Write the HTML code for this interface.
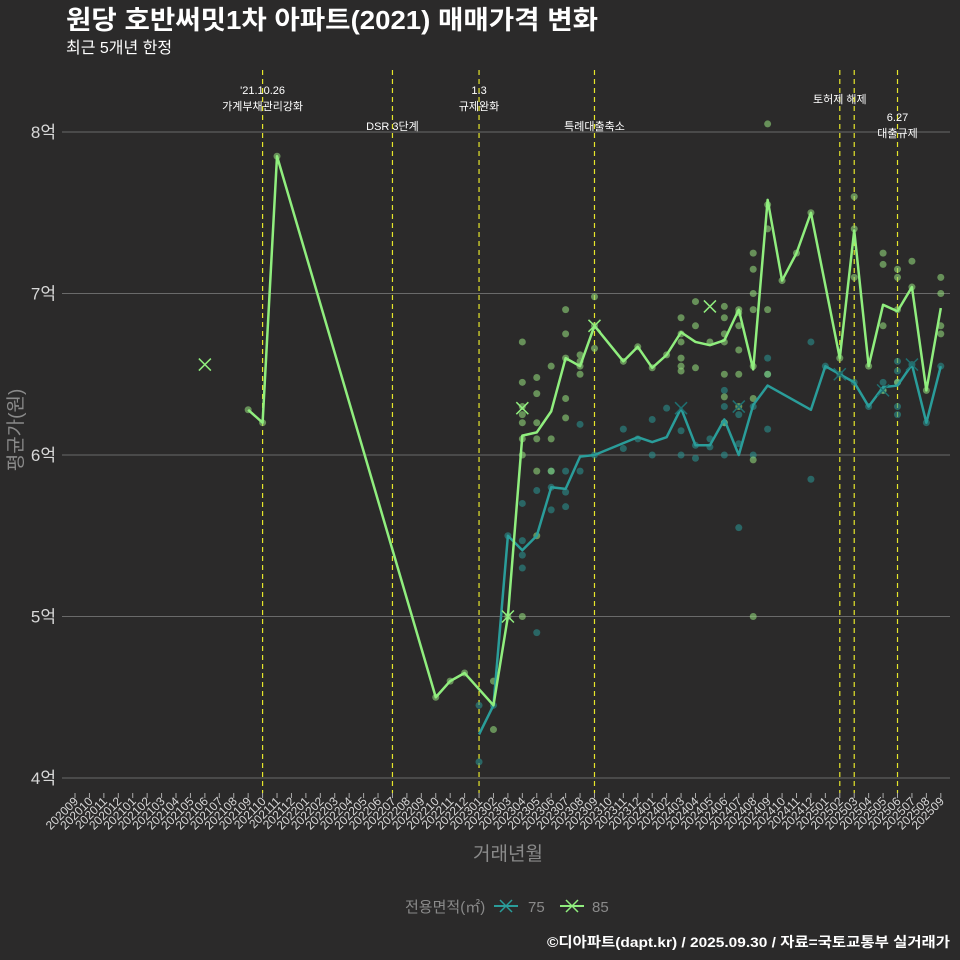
<!DOCTYPE html>
<html><head><meta charset="utf-8">
<style>
html,body{margin:0;padding:0;background:#2b2a2a;}
svg{display:block;font-family:"Liberation Sans","Noto Sans CJK KR",sans-serif;}
</style></head>
<body>
<svg id="chart" width="960" height="960" viewBox="0 0 960 960">
<rect x="0" y="0" width="960" height="960" fill="#2b2a2a"/>
<text x="66" y="29" fill="#ffffff" font-size="26" font-weight="bold" textLength="532" lengthAdjust="spacingAndGlyphs">원당 호반써밋1차 아파트(2021) 매매가격 변화</text>
<text x="66" y="53" fill="#ffffff" font-size="16">최근 5개년 한정</text>
<g id="grid"></g><g id="vlines"></g><g id="dots"></g><g id="lines"></g><g id="marks"></g><g id="axes"></g>
<text transform="translate(22,430) rotate(-90)" text-anchor="middle" fill="#8a8a8a" font-size="19">평균가(원)</text>
<text x="508" y="860" text-anchor="middle" fill="#8a8a8a" font-size="19">거래년월</text>
<g>
<text x="405" y="912" fill="#8a8a8a" font-size="15">전용면적(㎡)</text>
<g><line x1="494" y1="906" x2="518" y2="906" stroke="#2a9d9a" stroke-width="2"/><path d="M500 900 L512 912 M512 900 L500 912" stroke="#2a9d9a" stroke-width="1.5"/><text x="528" y="912" fill="#8a8a8a" font-size="15">75</text></g>
<g><line x1="560" y1="906" x2="584" y2="906" stroke="#90ee7e" stroke-width="2"/><path d="M566 900 L578 912 M578 900 L566 912" stroke="#90ee7e" stroke-width="1.5"/><text x="592" y="912" fill="#8a8a8a" font-size="15">85</text></g>
</g>
<text x="950" y="947" text-anchor="end" fill="#ffffff" font-size="14" font-weight="bold" textLength="403" lengthAdjust="spacingAndGlyphs">©디아파트(dapt.kr) / 2025.09.30 / 자료=국토교통부 실거래가</text>
</svg>
<script>
const months = [];
for (let y = 2020, m = 9; months.length < 61; ) { months.push(y + String(m).padStart(2,'0')); m++; if (m > 12) { m = 1; y++; } }
const yTicks = [4,5,6,7,8];
const yTickLabels = ['4억','5억','6억','7억','8억'];
const line85Idx = [12,13,14,25,26,27,29,30,31,32,33,34,35,36,38,39,40,41,42,43,44,45,46,47,48,49,50,51,53,54,55,56,57,58,59,60];
const line85Val = [6.28,6.2,7.85,4.5,4.6,4.65,4.45,5.0,6.12,6.14,6.27,6.6,6.55,6.8,6.58,6.67,6.54,6.62,6.76,6.7,6.68,6.71,6.9,6.53,7.58,7.08,7.25,7.5,6.6,7.39,6.55,6.93,6.89,7.04,6.4,6.91];
const line75Idx = [28,29,30,31,32,33,34,35,36,39,40,41,42,43,44,45,46,47,48,51,52,53,54,55,56,57,58,59,60];
const line75Val = [4.27,4.45,5.5,5.41,5.5,5.8,5.79,5.99,6.0,6.11,6.08,6.11,6.29,6.06,6.06,6.22,6.0,6.31,6.43,6.28,6.55,6.5,6.45,6.3,6.42,6.43,6.56,6.2,6.55];
const dots85Idx = [12,13,14,25,26,27,29,29,30,31,31,31,31,31,31,31,31,32,32,32,32,32,32,33,33,33,34,34,34,34,34,35,35,35,35,36,36,36,38,39,40,41,42,42,42,42,42,42,43,43,43,44,45,45,45,45,45,45,45,46,46,46,46,46,46,47,47,47,47,47,47,47,47,48,48,48,48,48,49,50,51,53,54,54,54,55,56,56,56,56,57,57,57,57,58,58,59,60,60,60,60];
const dots85Val = [6.28,6.2,7.85,4.5,4.6,4.65,4.3,4.6,5.0,6.7,6.45,6.3,6.25,6.2,6.1,6.0,5.0,6.48,6.38,6.2,6.1,5.9,5.5,6.55,6.1,5.9,6.9,6.75,6.6,6.35,6.23,6.62,6.58,6.5,6.55,6.98,6.8,6.66,6.58,6.67,6.54,6.62,6.85,6.75,6.7,6.6,6.55,6.52,6.95,6.8,6.54,6.7,6.92,6.85,6.75,6.7,6.5,6.36,6.2,6.9,6.88,6.8,6.65,6.5,6.3,7.25,7.15,7.0,6.9,6.55,6.35,5.97,5.0,8.05,7.55,7.4,6.9,6.5,7.08,7.25,7.5,6.6,7.6,7.4,7.1,6.55,7.25,7.18,6.8,6.4,7.15,7.1,6.9,6.45,7.2,7.04,6.4,7.1,7.0,6.8,6.75];
const dots75Idx = [28,28,29,30,31,31,31,31,32,32,33,33,33,34,34,34,35,35,36,38,38,39,40,40,41,42,42,43,43,44,44,45,45,45,45,46,46,46,47,47,48,48,48,51,51,52,53,54,55,56,56,57,57,57,57,57,58,59,60];
const dots75Val = [4.45,4.1,4.45,5.5,5.47,5.38,5.3,5.7,5.78,4.9,5.9,5.8,5.66,5.9,5.77,5.68,6.19,5.9,6.0,6.16,6.04,6.1,6.22,6.0,6.29,6.15,6.0,6.06,5.98,6.05,6.1,6.4,6.3,6.2,6.0,6.25,6.07,5.55,6.3,6.0,6.6,6.5,6.16,6.7,5.85,6.55,6.5,6.45,6.3,6.45,6.4,6.58,6.52,6.45,6.3,6.25,6.56,6.2,6.55];
const x85Idx = [9,30,31,36,44];
const x85Val = [6.56,5.0,6.29,6.8,6.92];
const x75Idx = [42,46,53,56,58];
const x75Val = [6.29,6.3,6.5,6.4,6.56];
const eventIdx = [13,22,28,36,53,54,57];
const eventLabels = [["'21.10.26","가계부채관리강화"],["DSR 3단계"],["1.3","규제완화"],["특례대출축소"],["토허제 해제"],[],["6.27","대출규제"]];
const eventLabelY = [[94,110],[130],[94,110],[130],[103],[],[121,137]];

const NS='http://www.w3.org/2000/svg';
const X = i => 75 + i*14.43;
const Y = v => 778 - (v-4)*161.5;
function mk(tag, attrs, parent){ const e=document.createElementNS(NS,tag); for(const k in attrs) e.setAttribute(k,attrs[k]); document.getElementById(parent).appendChild(e); return e; }

yTicks.forEach((t,k)=>{
  const l=mk('line',{x1:62,x2:950,y1:Y(t),y2:Y(t),stroke:'#6a6a6a','stroke-width':1},'grid');
  
  
  const tx=mk('text',{x:56,y:Y(t)+6,'text-anchor':'end',fill:'#d8d8d8','font-size':17},'axes');
  tx.textContent=yTickLabels[k];
  
  
});
months.forEach((m,i)=>{
  const tk=mk('line',{x1:X(i),x2:X(i),y1:793,y2:798,stroke:'#aaaaaa','stroke-width':1},'axes');
  
  
  const tx=mk('text',{x:X(i)+4,y:802,'text-anchor':'end',fill:'#d8d8d8','font-size':12,transform:`rotate(-45 ${X(i)+4} 802)`},'axes');
  tx.textContent=m;
  
  
});
eventIdx.forEach((ei,k)=>{
  const l=mk('line',{x1:X(ei),x2:X(ei),y1:70,y2:793,stroke:'#e6e62a','stroke-width':1.2,'stroke-dasharray':'5,4'},'vlines');
  
  
  eventLabels[k].forEach((s,j)=>{
    const t=mk('text',{x:X(ei),y:eventLabelY[k][j],'text-anchor':'middle',fill:'#ffffff','font-size':11},'vlines');
    t.textContent=s;
    
    
  });
});
function dots(idx,val,col){ idx.forEach((ii,k)=>{ const c=mk('circle',{cx:X(ii),cy:Y(val[k]),r:3.5,fill:col,'fill-opacity':0.6},'dots');   }); }
dots(dots75Idx,dots75Val,'#2a8f8e');
dots(dots85Idx,dots85Val,'#8fd67a');
function line(idx,val,col,name){ const p=mk('polyline',{points:idx.map((ii,k)=>X(ii)+','+Y(val[k])).join(' '),fill:'none',stroke:col,'stroke-width':2.5,'stroke-linejoin':'round'},'lines');   }
line(line75Idx,line75Val,'#2a9d9a','avg-line-75');
line(line85Idx,line85Val,'#90ee7e','avg-line-85');
function xs(idx,val,col){ idx.forEach((ii,k)=>{ const x=X(ii),y=Y(val[k]); const p=mk('path',{d:`M${x-6} ${y-6}L${x+6} ${y+6}M${x+6} ${y-6}L${x-6} ${y+6}`,stroke:col,'stroke-width':1.5},'marks');   }); }
xs(x85Idx,x85Val,'#90ee7e');
xs(x75Idx,x75Val,'#1f6f70');
</script>
</body></html>
